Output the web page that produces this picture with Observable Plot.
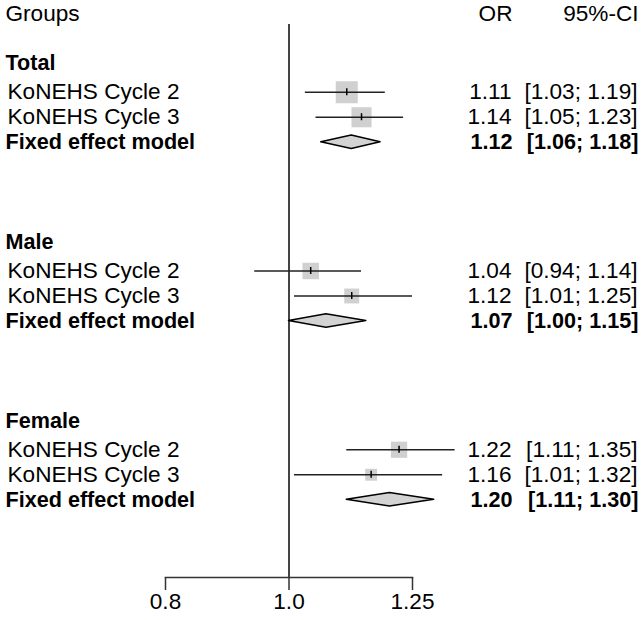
<!DOCTYPE html>
<html>
<head>
<meta charset="utf-8">
<script src="https://cdn.jsdelivr.net/npm/d3@7"></script>
<script src="https://cdn.jsdelivr.net/npm/@observablehq/plot@0.6"></script>
<style>
  html, body { margin: 0; padding: 0; background: #fff; }
</style>
</head>
<body>
<div id="chart"></div>
<script>
// ---- data ----
const headers = ["Groups", "OR", "95%-CI"];
const groups = ["Total", "Male", "Female"];
const studies = ["KoNEHS Cycle 2", "KoNEHS Cycle 3"];
const studyOR    = [[1.11, 1.14], [1.04, 1.12], [1.22, 1.16]];
const studyLower = [[1.03, 1.05], [0.94, 1.01], [1.11, 1.01]];
const studyUpper = [[1.19, 1.23], [1.14, 1.25], [1.35, 1.32]];
const modelLabel = "Fixed effect model";
const fixedOR    = [1.12, 1.07, 1.20];
const fixedLower = [1.06, 1.00, 1.11];
const fixedUpper = [1.18, 1.15, 1.30];
const tickValues = [0.8, 1.0, 1.25];
const tickLabels = ["0.8", "1.0", "1.25"];

// ---- layout (row positions) ----
const rowY = (g, k) => 2 + g * 7.15 + (k > 0 ? k + 0.15 : 0);
const f2 = d3.format(".2f");
const ci = (l, u) => `[${f2(l)}; ${f2(u)}]`;

const groupRows = groups.map((name, g) => ({label: name, y: rowY(g, 0)}));
const studyRows = [];
groups.forEach((name, g) => studies.forEach((s, i) => {
  const lw = Math.log(studyUpper[g][i] / studyLower[g][i]);
  studyRows.push({
    label: s, y: rowY(g, i + 1),
    or: studyOR[g][i], lower: studyLower[g][i], upper: studyUpper[g][i],
    side: 3.18 / lw
  });
}));
const fixedRows = groups.map((name, g) => ({
  label: modelLabel, y: rowY(g, 3),
  or: fixedOR[g], lower: fixedLower[g], upper: fixedUpper[g]
}));
const h = 0.27;
const diamond = fixedRows.flatMap((d, g) => [
  {g, x: d.lower, y1: d.y, y2: d.y},
  {g, x: d.or, y1: d.y - h, y2: d.y + h},
  {g, x: d.upper, y1: d.y, y2: d.y}
]);
const headerRow = [{y: 0}];
const ticks = tickValues.map((v, i) => ({v, label: tickLabels[i]}));

const FS = 22.6;   // regular text
const FB = 21.6;   // bold text
const chart = Plot.plot({
  width: 641,
  height: 620,
  marginLeft: 165,
  marginRight: 229,
  marginTop: 24,
  marginBottom: 43,
  style: {fontFamily: "'Liberation Sans', Arial, sans-serif", background: "#fff", color: "#000"},
  x: {type: "log", domain: [0.8, 1.25], axis: null},
  y: {type: "linear", domain: [0, 1], range: [13, 38], axis: null},
  r: {type: "identity"},
  marks: [
    Plot.ruleX([1], {stroke: "#444", strokeWidth: 2}),
    Plot.frame({anchor: "bottom", stroke: "#333", strokeWidth: 1.5}),
    Plot.axisX(tickValues, {text: null, tickSize: 13, stroke: "#333", strokeWidth: 1.5}),
    Plot.text(ticks, {x: "v", text: "label", frameAnchor: "bottom", dy: 31, fontSize: FS, fill: "#000"}),
    // study squares
    Plot.dot(studyRows, {x: "or", y: "y", symbol: "square", r: d => d.side / Math.sqrt(Math.PI), fill: "#d0d0d0", stroke: null}),
    // CI lines
    Plot.ruleY(studyRows, {x1: "lower", x2: "upper", y: "y", stroke: "#222", strokeWidth: 1.5}),
    // estimate tick
    Plot.ruleX(studyRows, {x: "or", y1: d => d.y - 0.14, y2: d => d.y + 0.14, stroke: "#000", strokeWidth: 1.5}),
    // diamonds
    Plot.areaY(diamond, {x: "x", y1: "y1", y2: "y2", z: "g", curve: "linear", fill: "#d3d3d3", stroke: "#000", strokeWidth: 1.5}),
    // headers
    Plot.text(headerRow, {y: "y", text: () => headers[0], frameAnchor: "left", dx: -160, textAnchor: "start", fontSize: FS}),
    Plot.text(headerRow, {y: "y", text: () => headers[1], frameAnchor: "right", dx: 100, textAnchor: "end", fontSize: FS}),
    Plot.text(headerRow, {y: "y", text: () => headers[2], frameAnchor: "right", dx: 226, textAnchor: "end", fontSize: FS}),
    // left labels
    Plot.text(groupRows, {y: "y", text: "label", frameAnchor: "left", dx: -160, textAnchor: "start", fontSize: FB, fontWeight: "bold"}),
    Plot.text(studyRows, {y: "y", text: "label", frameAnchor: "left", dx: -158, textAnchor: "start", fontSize: FS}),
    Plot.text(fixedRows, {y: "y", text: "label", frameAnchor: "left", dx: -160, textAnchor: "start", fontSize: FB, fontWeight: "bold"}),
    // OR column
    Plot.text(studyRows, {y: "y", text: d => f2(d.or), frameAnchor: "right", dx: 99, textAnchor: "end", fontSize: FS}),
    Plot.text(fixedRows, {y: "y", text: d => f2(d.or), frameAnchor: "right", dx: 100, textAnchor: "end", fontSize: FB, fontWeight: "bold"}),
    // CI column
    Plot.text(studyRows, {y: "y", text: d => ci(d.lower, d.upper), frameAnchor: "right", dx: 225, textAnchor: "end", fontSize: FS}),
    Plot.text(fixedRows, {y: "y", text: d => ci(d.lower, d.upper), frameAnchor: "right", dx: 226, textAnchor: "end", fontSize: FB, fontWeight: "bold"})
  ]
});
document.getElementById("chart").appendChild(chart);
</script>
</body>
</html>
